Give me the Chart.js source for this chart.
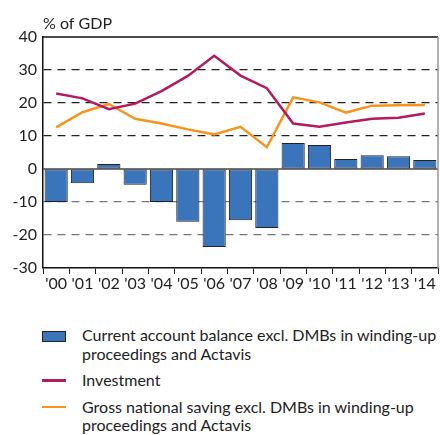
<!DOCTYPE html>
<html>
<head>
<meta charset="utf-8">
<script src="https://cdn.jsdelivr.net/npm/chart.js@4.4.1/dist/chart.umd.min.js"></script>
<style>
  body { margin: 0; background: #fff; font-family: Lato, "Open Sans", sans-serif; color: #222; }
  #wrap { position: relative; width: 440px; height: 435px; }
  #legend { position: absolute; left: 42px; top: 326px; font-size: 16px; line-height: 18.5px; }
  .item { display: flex; margin-bottom: 8px; }
  .sw { width: 40px; flex: none; position: relative; }
  .box { position: absolute; left: 0; top: 5px; width: 22px; height: 9px; background: #3a75bb; border: 1px solid #222; }
  .ln { position: absolute; left: 0; top: 8px; width: 24px; height: 2.5px; }
</style>
</head>
<body>
<div id="wrap">
  <canvas id="myChart" width="440" height="300"></canvas>
  <div id="legend">
    <div class="item"><div class="sw"><div class="box"></div></div><div>Current account balance excl. DMBs in winding-up<br>proceedings and Actavis</div></div>
    <div class="item"><div class="sw"><div class="ln" style="background:#b5195f"></div></div><div>Investment</div></div>
    <div class="item"><div class="sw"><div class="ln" style="background:#f7941d"></div></div><div>Gross national saving excl. DMBs in winding-up<br>proceedings and Actavis</div></div>
  </div>
</div>
<script>
const years = ["'00", "'01", "'02", "'03", "'04", "'05", "'06", "'07", "'08", "'09", "'10", "'11", "'12", "'13", "'14"];
const currentAccount = [-10.0, -4.3, 1.5, -4.8, -10.0, -16.0, -23.6, -15.5, -17.9, 7.9, 7.3, 3.0, 4.2, 3.9, 2.7];
const investment = [22.9, 21.4, 18.1, 19.8, 23.6, 28.2, 34.3, 28.3, 24.5, 13.8, 12.8, 14.1, 15.2, 15.5, 16.8];
const saving = [12.6, 17.2, 19.7, 15.2, 13.8, 12.0, 10.5, 12.8, 6.6, 21.7, 20.2, 17.1, 19.2, 19.3, 19.4];

Chart.defaults.font.family = 'Lato, "Open Sans", sans-serif';
Chart.defaults.color = '#222';

// frame, zero line and the unit label
const extras = {
  id: 'extras',
  beforeDatasetsDraw(chart) {
    const ctx = chart.ctx, a = chart.chartArea;
    const y0 = chart.scales.y.getPixelForValue(0);
    ctx.save();
    ctx.strokeStyle = '#444';
    ctx.lineWidth = 1.5;
    ctx.beginPath();
    ctx.moveTo(a.left, y0);
    ctx.lineTo(a.right, y0);
    ctx.stroke();
    ctx.restore();
  },
  afterDraw(chart) {
    const ctx = chart.ctx, a = chart.chartArea;
    ctx.save();
    ctx.strokeStyle = '#111';
    ctx.lineWidth = 1.5;
    ctx.beginPath();
    ctx.moveTo(a.left, a.top);
    ctx.lineTo(a.right, a.top);
    ctx.stroke();
    ctx.strokeStyle = '#999';
    ctx.lineWidth = 1.5;
    ctx.beginPath();
    ctx.moveTo(a.right, a.top);
    ctx.lineTo(a.right, a.bottom);
    ctx.stroke();
    ctx.fillStyle = '#222';
    ctx.font = '16px Lato, "Open Sans", sans-serif';
    ctx.textBaseline = 'middle';
    ctx.fillText('% of GDP', a.left, 24);
    ctx.restore();
  }
};

const config = {
  type: 'bar',
  data: {
    labels: years,
    datasets: [
      {
        type: 'line',
        label: 'Investment',
        data: investment,
        borderColor: '#b5195f',
        borderWidth: 2.5,
        pointRadius: 0,
        tension: 0,
        order: 1
      },
      {
        type: 'line',
        label: 'Gross national saving excl. DMBs in winding-up proceedings and Actavis',
        data: saving,
        borderColor: '#f7941d',
        borderWidth: 2.5,
        pointRadius: 0,
        tension: 0,
        order: 1
      },
      {
        label: 'Current account balance excl. DMBs in winding-up proceedings and Actavis',
        data: currentAccount,
        backgroundColor: '#3a75bb',
        borderColor: '#222',
        borderWidth: 1,
        borderSkipped: false,
        barPercentage: 0.88,
        categoryPercentage: 1,
        order: 2
      }
    ]
  },
  options: {
    responsive: false,
    animation: false,
    layout: { padding: { top: 37, right: 2, left: 0, bottom: 0 } },
    plugins: { legend: { display: false }, tooltip: { enabled: false } },
    scales: {
      x: {
        grid: { offset: true, drawOnChartArea: false, tickLength: 6, color: '#222', lineWidth: 1 },
        border: { color: '#111', width: 1.5 },
        ticks: { font: { size: 16 }, padding: 0, maxRotation: 0, autoSkip: false },
        afterFit(s) { s.height = 32; }
      },
      y: {
        min: -30,
        max: 40,
        grid: {
          drawTicks: false,
          lineWidth: 1.2,
          color(c) {
            const v = c.tick.value;
            if (v === 40 || v === -30 || v === 0) return 'rgba(0,0,0,0)';
            return v < 0 ? '#777' : '#222';
          }
        },
        border: { color: '#111', width: 1.5, dash: [8, 6] },
        ticks: { stepSize: 10, font: { size: 16 }, padding: 6 },
        afterFit(s) { s.width = 43; }
      }
    }
  },
  plugins: [extras]
};

new Chart(document.getElementById('myChart'), config);
</script>
</body>
</html>
